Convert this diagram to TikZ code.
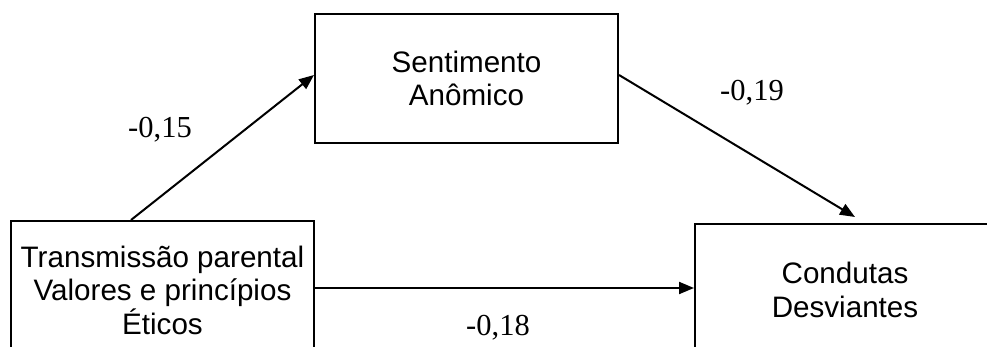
\documentclass[tikz,border=0pt]{standalone}
\usepackage{fontspec}
\setmainfont{Liberation Sans}
\newfontfamily\numfont{Liberation Serif}
\usetikzlibrary{arrows.meta}
\begin{document}
\begin{tikzpicture}[x=1pt, y=-1pt, line width=2pt,
             box/.style = {draw, rectangle, align=center, inner sep=0pt,
                           font=\fontsize{29.6}{33.5}\selectfont},
             coef/.style = {font=\numfont\fontsize{30.5}{33}\selectfont},
             seta/.style = {-{Triangle[length=15pt, width=12pt]}}]
            \useasboundingbox (0,0) rectangle (987,347);
            \clip (0,0) rectangle (987,347);
            % Caixas
            \node[box, minimum width=303pt, minimum height=129pt] (sa) at (466.5,78.5) {Sentimento\\Anômico};
            \node[box, minimum width=303pt, minimum height=138pt] (tp) at (162.5,290) {Transmissão parental\\Valores e princípios\\Éticos};
            \node[box, minimum width=300pt, minimum height=132pt] (cd) at (845,290) {Condutas\\Desviantes};

            % Setas
            \draw[seta] ([xshift=121pt]tp.north west) -- ([yshift=3.5pt]sa.west);
            \draw[seta] ([yshift=3.5pt]sa.east) -- ([xshift=161pt, yshift=6pt]cd.north west);
            \draw[seta] ([yshift=2pt]tp.east) -- ([yshift=2pt]cd.west);

            % Coeficientes
            \node[coef] (c1) at (160,130) {-0,15};
            \node[coef] (c2) at (752,93) {-0,19};
            \node[coef] (c3) at (498,328) {-0,18};
        \end{tikzpicture}
\end{document}
